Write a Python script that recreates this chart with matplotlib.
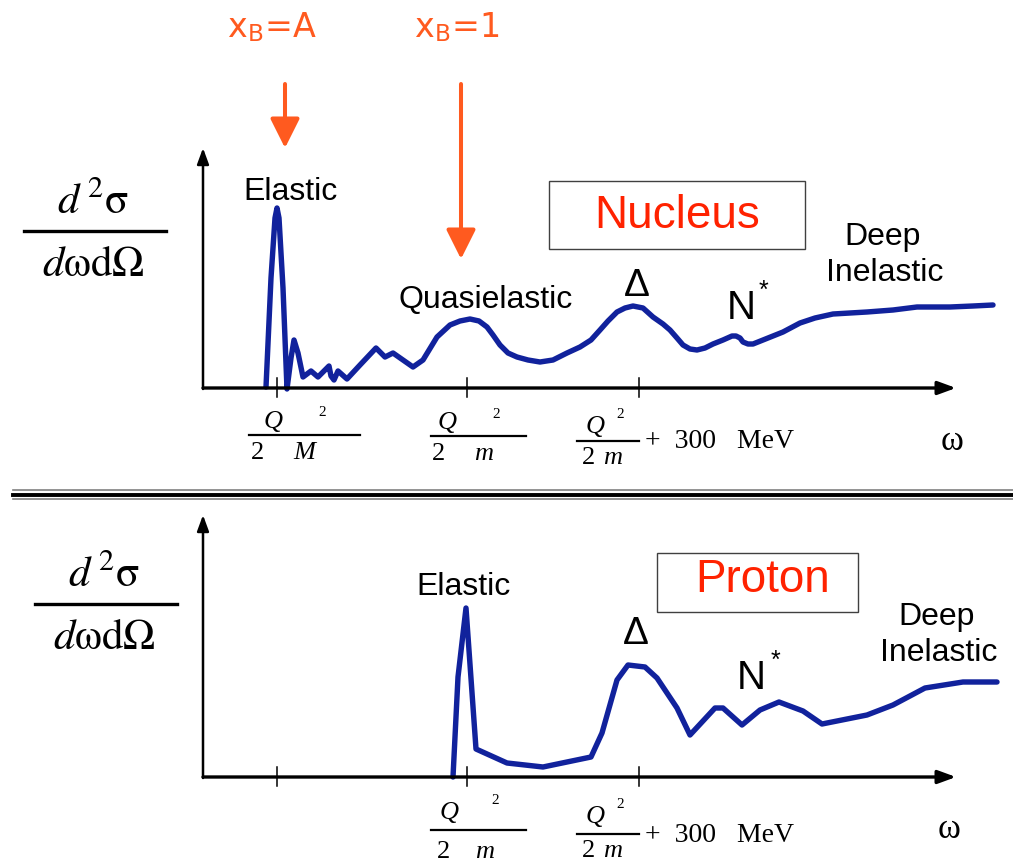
import matplotlib.pyplot as plt
from matplotlib.lines import Line2D
from matplotlib.patches import Rectangle

plt.rcParams['mathtext.fontset'] = 'stix'
plt.rcParams['mathtext.default'] = 'rm'

W, H = 1013, 866

# omega and cross section in arbitrary units (origin at the axis corner)
tick_omega = [74, 264, 436]

nucleus_omega = [63, 68, 72, 74, 76, 80, 84, 88, 91, 95, 100, 108, 115, 122, 126, 128, 131,
                 135, 144, 157, 173, 182, 190, 210, 220, 234, 247, 257, 267, 276, 284, 290,
                 297, 305, 314, 325, 337, 350, 364, 377, 388, 397, 405, 414, 422, 430, 440,
                 450, 460, 467, 474, 480, 487, 494, 502, 510, 520, 529, 533, 537, 540, 545,
                 550, 565, 580, 597, 612, 630, 647, 664, 690, 714, 730, 747, 770, 790]
nucleus_xsec = [1, 110, 170, 180, 170, 100, -1, 30, 48, 35, 11, 17, 11, 18, 22, 12, 8,
                17, 9, 23, 40, 31, 35, 21, 28, 51, 63, 67, 69, 67, 61, 53,
                43, 35, 31, 28, 26, 28, 35, 41, 48, 58, 67, 76, 80, 82, 80,
                71, 64, 58, 50, 43, 39, 38, 40, 44, 48, 52, 52, 50, 46, 44,
                44, 50, 56, 65, 70, 74, 75, 76, 78, 81, 81, 81, 82, 83]

proton_omega = [250, 255, 263, 273, 304, 340, 364, 388, 399, 414, 425, 442, 454, 474, 487,
                512, 520, 539, 557, 576, 600, 619, 664, 690, 722, 760, 794]
proton_xsec = [0, 100, 169, 28, 14, 10, 15, 20, 44, 97, 112, 110, 99, 69, 42,
               69, 69, 52, 67, 75, 66, 53, 62, 72, 89, 95, 95]

tick_labels_nucleus = [('Q', 'M'), ('Q', 'm')]
tick_labels_proton = [('Q', 'm')]

blue = '#11229C'
orange = '#FF5A1F'
red = '#FF2200'

fig = plt.figure(figsize=(W / 100, H / 100), dpi=100)


def fx(x):
    return x / W


def fy(y):
    return 1 - y / H


def put(x, y, s, ha='center', **kw):
    fig.text(fx(x), fy(y), s, ha=ha, va='center', **kw)


def bar(x0, x1, y, lw=1.6, color='black'):
    fig.add_artist(Line2D([fx(x0), fx(x1)], [fy(y), fy(y)], color=color, lw=lw))


def panel(top, bottom, omega, xsec):
    ax = fig.add_axes([fx(203), fy(bottom), fx(810), (bottom - top) / H])
    ax.set_xlim(0, 810)
    ax.set_ylim(0, bottom - top)
    ax.axis('off')
    ax.annotate('', xy=(753, 0), xytext=(0, 0), annotation_clip=False,
                arrowprops=dict(arrowstyle='-|>,head_length=0.6,head_width=0.22', lw=2.4,
                                color='black', mutation_scale=18, shrinkA=0, shrinkB=0))
    ax.annotate('', xy=(0, bottom - top), xytext=(0, -1), annotation_clip=False,
                arrowprops=dict(arrowstyle='-|>,head_length=0.6,head_width=0.22', lw=1.8,
                                color='black', mutation_scale=16, shrinkA=0, shrinkB=0))
    for t in tick_omega:
        ax.plot([t, t], [-9, 10], color='black', lw=1.1, clip_on=False)
    ax.plot(omega, xsec, color=blue, lw=3.9, clip_on=False,
            solid_joinstyle='round', solid_capstyle='round')
    return ax


ax1 = panel(148, 388, nucleus_omega, nucleus_xsec)
ax2 = panel(515, 777, proton_omega, proton_xsec)

# x_B arrows
arrow_kw = dict(arrowstyle='-|>,head_length=0.9,head_width=0.45', lw=2.9,
                color=orange, mutation_scale=20, shrinkA=0, shrinkB=0)
ax1.annotate('', xy=(82, 240), xytext=(82, 304), annotation_clip=False, arrowprops=arrow_kw)
ax1.annotate('', xy=(258, 129), xytext=(258, 304), annotation_clip=False, arrowprops=arrow_kw)
put(272, 28, r'x$_\mathregular{B}$=A', color=orange, fontsize=24, family='DejaVu Sans')
put(457, 28, r'x$_\mathregular{B}$=1', color=orange, fontsize=24, family='DejaVu Sans')

# y labels
for dx, line_y in [(0, 231), (11, 604)]:
    put(93 + dx, line_y - 30, r'$\mathit{d}^{\,2}\sigma$', fontsize=31)
    bar(24 + dx, 166 + dx, line_y, lw=2.4)
    put(93 + dx, line_y + 33, r'$\mathit{d}\omega\mathrm{d}\Omega$', fontsize=31)

sans = 'Liberation Sans'
serif = 'Liberation Serif'

# nucleus labels
put(290, 192, 'Elastic', fontsize=23, family=sans)
put(486, 300, 'Quasielastic', fontsize=23, family=sans)
put(637, 286, 'Δ', fontsize=28, family=sans)
put(741, 308, 'N', fontsize=29, family=sans)
put(763, 291, '*', fontsize=18, family=sans)
put(883, 237, 'Deep', fontsize=23, family=sans)
put(885, 273, 'Inelastic', fontsize=23, family=sans)
fig.add_artist(Rectangle((fx(549), fy(249)), fx(256), (249 - 181) / H, transform=fig.transFigure,
                         facecolor='white', edgecolor='#404040', lw=1))
put(677, 216, 'Nucleus', fontsize=33, family=sans, color=red)

# proton labels
put(463, 587, 'Elastic', fontsize=23, family=sans)
put(636, 634, 'Δ', fontsize=28, family=sans)
put(751, 678, 'N', fontsize=29, family=sans)
put(775, 661, '*', fontsize=18, family=sans)
put(937, 617, 'Deep', fontsize=23, family=sans)
put(939, 653, 'Inelastic', fontsize=23, family=sans)
fig.add_artist(Rectangle((fx(657), fy(612)), fx(201), (612 - 553) / H, transform=fig.transFigure,
                         facecolor='white', edgecolor='#404040', lw=1))
put(763, 580, 'Proton', fontsize=33, family=sans, color=red)

# tick labels, nucleus
sz = 19
for (qx, supx, x0, x1, yl, twox, mx), (q, mass) in zip(
        [(273, 322, 249, 360, 435, 257, 304), (447, 496, 431, 526, 436, 438, 484)],
        tick_labels_nucleus):
    put(qx, yl - 13, q, fontsize=sz, family=serif, style='italic')
    put(supx, yl - 22, '2', fontsize=11, family=serif)
    bar(x0, x1, yl)
    put(twox, yl + 18, '2', fontsize=sz, family=serif)
    put(mx, yl + 18, mass, fontsize=sz, family=serif, style='italic')

# tick labels, proton
for (qx, supx, x0, x1, yl, twox, mx), (q, mass) in zip(
        [(449, 495, 431, 526, 830, 443, 485)], tick_labels_proton):
    put(qx, yl - 17, q, fontsize=sz, family=serif, style='italic')
    put(supx, yl - 29, '2', fontsize=11, family=serif)
    bar(x0, x1, yl)
    put(twox, yl + 22, '2', fontsize=sz, family=serif)
    put(mx, yl + 22, mass, fontsize=sz, family=serif, style='italic')

# Q^2/2m + 300 MeV labels
for yl, qy in [(441, 427), (834, 817)]:
    put(595, qy, 'Q', fontsize=sz, family=serif, style='italic')
    put(620, qy - 12, '2', fontsize=11, family=serif)
    bar(577, 639, yl)
    put(588, yl + 17, '2', fontsize=sz, family=serif)
    put(613, yl + 17, 'm', fontsize=sz, family=serif, style='italic')
    put(645, yl + 1, '+  300   MeV', ha='left', fontsize=20, family=serif)

put(952, 442, 'ω', fontsize=25, family=serif)
put(949, 830, 'ω', fontsize=25, family=serif)

# separator
bar(13, 1013, 490, lw=1.2, color='#808080')
bar(13, 1013, 494.5, lw=2.8, color='black')
bar(13, 1013, 499, lw=1.2, color='#808080')

fig.savefig('out.png', dpi=100)
